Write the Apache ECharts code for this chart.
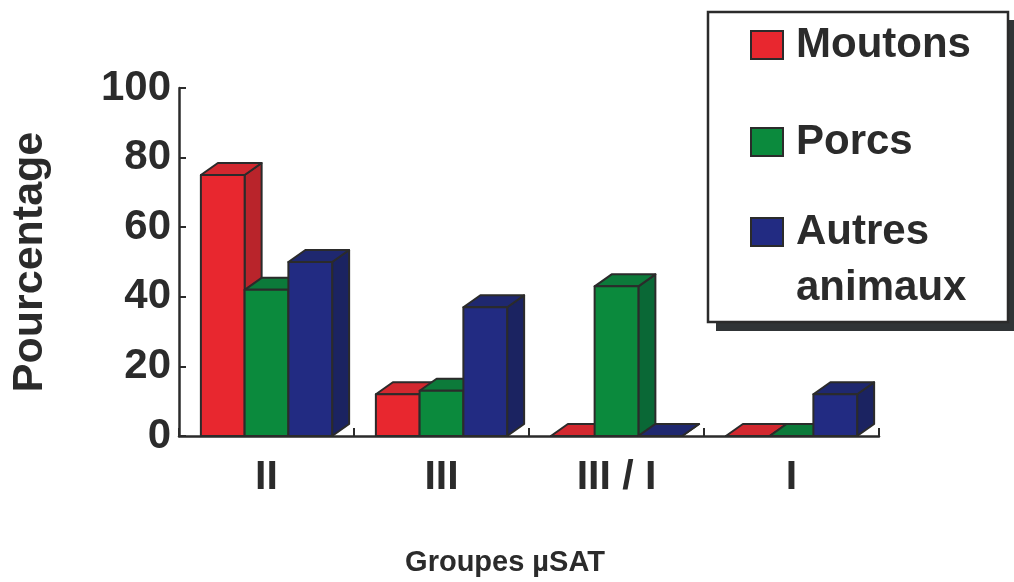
<!DOCTYPE html>
<html>
<head>
<meta charset="utf-8">
<script src="https://cdn.jsdelivr.net/npm/echarts@6/dist/echarts.min.js"></script>
<style>
  html, body { margin: 0; padding: 0; background: #ffffff; }
  #chart { width: 1014px; height: 582px; }
</style>
</head>
<body>
<div id="chart"></div>
<script>
// Répartition des groupes µSAT par hôte (%)
const categories = ['II', 'III', 'III / I', 'I'];
const moutons = [75, 12, 0, 0];
const porcs = [42, 13, 43, 0];
const autresAnimaux = [50, 37, 0, 12];
const seriesNames = ['Moutons', 'Porcs', 'Autres animaux'];
const yTicks = [0, 20, 40, 60, 80, 100];

const INK = '#2b2b2b';
const FONT = '"Liberation Sans", Arial, sans-serif';
// face colours: front, top, side
const palette = [
  { front: '#e8272f', top: '#d2282f', side: '#b9242b' },
  { front: '#0b8a3d', top: '#0c7a3a', side: '#0a6836' },
  { front: '#222b82', top: '#1f286f', side: '#1b2361' }
];
// depth of the extruded bars, in pixels
const DX = 17, DY = 12;

function bar3d(k) {
  const c = palette[k];
  return function (params, api) {
    const ci = api.value(0);
    const v = api.value(1);
    const base = api.coord([ci, 0]);
    const top = api.coord([ci, v]);
    const band = api.size([1, 0])[0];
    const w = band * 0.25;
    const x0 = base[0] + (k - 1) * w - w / 2;
    const x1 = x0 + w;
    const y0 = base[1];
    const y1 = top[1];
    const line = { stroke: INK, lineWidth: 2, lineJoin: 'round' };
    return {
      type: 'group',
      children: [
        {
          type: 'polygon',
          shape: { points: [[x1, y0], [x1 + DX, y0 - DY], [x1 + DX, y1 - DY], [x1, y1]] },
          style: Object.assign({ fill: c.side }, line)
        },
        {
          type: 'polygon',
          shape: { points: [[x0, y1], [x1, y1], [x1 + DX, y1 - DY], [x0 + DX, y1 - DY]] },
          style: Object.assign({ fill: c.top }, line)
        },
        {
          type: 'rect',
          shape: { x: x0, y: y1, width: w, height: y0 - y1 },
          style: Object.assign({ fill: c.front }, line)
        }
      ]
    };
  };
}

const valueSets = [moutons, porcs, autresAnimaux];
const series = valueSets.map(function (vals, k) {
  return {
    type: 'custom',
    name: seriesNames[k],
    renderItem: bar3d(k),
    encode: { x: 0, y: 1 },
    itemStyle: { color: palette[k].front },
    data: vals.map(function (v, i) { return [i, v]; })
  };
});

const legendText = { fontFamily: FONT, fontWeight: 'bold', fontSize: 42, color: INK, lineHeight: 44, padding: [0, 0, 0, 8] };
function legendFor(k, top, text) {
  return {
    data: [{ name: seriesNames[k], icon: 'rect' }],
    orient: 'vertical',
    left: 750,
    top: top,
    padding: 0,
    itemWidth: 32,
    itemHeight: 28,
    z: 5,
    selectedMode: false,
    itemStyle: { borderColor: INK, borderWidth: 2 },
    textStyle: Object.assign({}, legendText, text || {}),
    // the first line stays level with the swatch; the name wraps below it
    formatter: function (name) { return name === 'Autres animaux' ? '\nAutres\nanimaux' : name; }
  };
}

const chart = echarts.init(document.getElementById('chart'), null, { renderer: 'canvas' });
chart.setOption({
  backgroundColor: '#ffffff',
  animation: false,
  grid: { left: 179, right: 135, top: 88, bottom: 145, containLabel: false },
  graphic: [
    { type: 'rect', z: 1, shape: { x: 716, y: 321, width: 300, height: 10 }, style: { fill: '#303436' } },
    { type: 'rect', z: 1, shape: { x: 1008, y: 20, width: 10, height: 310 }, style: { fill: '#303436' } },
    { type: 'rect', z: 2, shape: { x: 708, y: 12, width: 300, height: 310 }, style: { fill: '#ffffff', stroke: INK, lineWidth: 2.5 } }
  ],
  legend: [
    legendFor(0, 23),
    legendFor(1, 120),
    legendFor(2, 148, { lineHeight: 56 })
  ],
  xAxis: {
    type: 'category',
    data: categories,
    boundaryGap: true,
    name: 'Groupes µSAT',
    nameLocation: 'middle',
    nameGap: 112,
    nameTextStyle: { fontFamily: FONT, fontWeight: 'bold', fontSize: 29, color: INK, padding: [0, 48, 0, 0] },
    axisLine: { lineStyle: { color: INK, width: 2.5 } },
    axisTick: { show: true, inside: true, length: 8, alignWithLabel: false, lineStyle: { color: INK, width: 2 } },
    axisLabel: { fontFamily: FONT, fontWeight: 'bold', fontSize: 41, color: INK, margin: 21 },
    splitLine: { show: false }
  },
  yAxis: {
    type: 'value',
    min: yTicks[0],
    max: yTicks[yTicks.length - 1],
    interval: 20,
    name: 'Pourcentage',
    nameLocation: 'middle',
    nameRotate: 90,
    nameGap: 127,
    nameTextStyle: { fontFamily: FONT, fontWeight: 'bold', fontSize: 43, color: INK },
    axisLine: { show: true, lineStyle: { color: INK, width: 2.5 } },
    axisTick: { show: true, inside: true, length: 7, lineStyle: { color: INK, width: 2 } },
    axisLabel: { fontFamily: FONT, fontWeight: 'bold', fontSize: 42, color: INK, margin: 8 },
    splitLine: { show: false }
  },
  series: series
});
</script>
</body>
</html>
